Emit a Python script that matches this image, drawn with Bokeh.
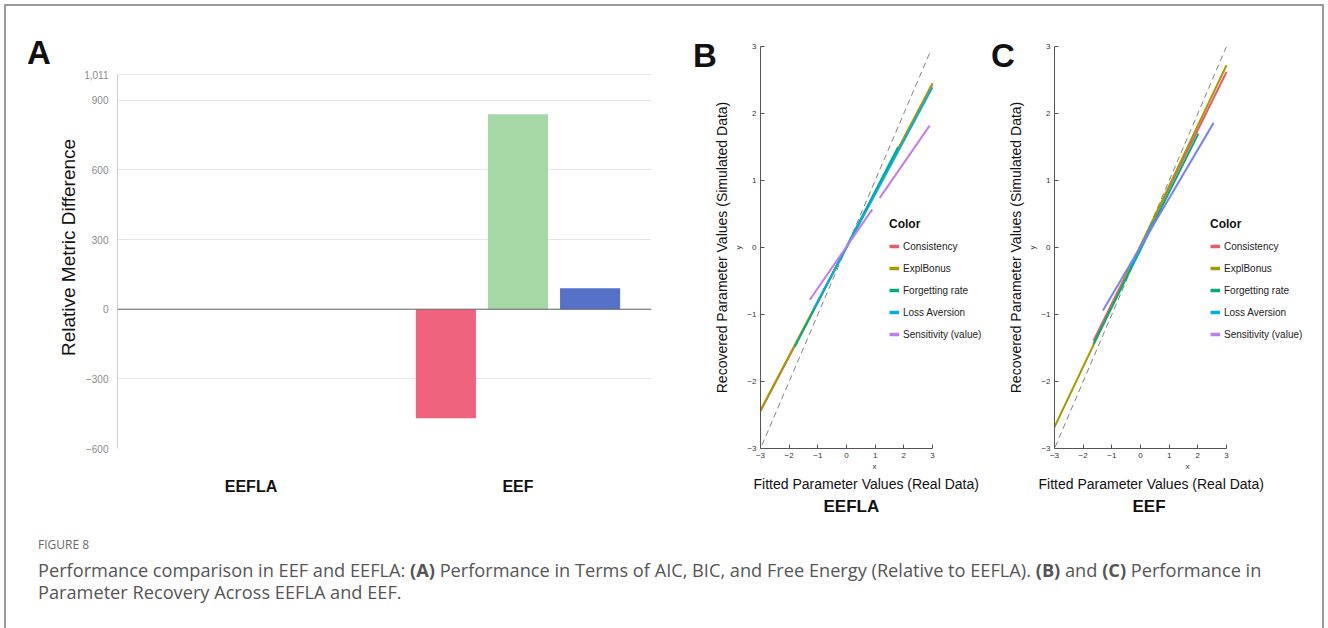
import math
from bokeh.plotting import figure
from bokeh.layouts import row, column
from bokeh.models import (ColumnDataSource, FactorRange, Range1d, FixedTicker, Span,
                          Legend, LegendItem, Title, Div)
from bokeh.transform import dodge
from bokeh.embed import file_html
from bokeh.resources import INLINE

nan = float("nan")

# ---------------- Panel A data ----------------
models = ["EEFLA", "EEF"]
aic_diff = [0, -470]
bic_diff = [0, 840]
fe_diff = [0, 90]
metric_colors = ["#f0637f", "#a6d8a6", "#5672c8"]
a_yticks = [-600, -300, 0, 300, 600, 900, 1011]
a_ytick_labels = ["\u2212600", "\u2212300", "0", "300", "600", "900", "1,011"]
a_ymin, a_ymax = -600, 1011

# ---------------- Panels B / C data ----------------
params = ["Consistency", "ExplBonus", "Forgetting rate", "Loss Aversion", "Sensitivity (value)"]
param_colors = ["#eb5a68", "#a59a00", "#00ad7d", "#00aee8", "#c27cf2"]
rec_ticks = [-3, -2, -1, 0, 1, 2, 3]

# EEFLA (panel B)
eefla_identity = [-2.95, 2.95]
eefla_cons_x = [-3.0, 3.0]
eefla_cons_y = [-2.44, 2.44]
eefla_expl_x = [-3.0, 3.0]
eefla_expl_y = [-2.43, 2.45]
eefla_forg_x = [-1.80, 1.80]
eefla_forg_y = [-1.48, 1.50]
eefla_loss_x = [-1.15, 3.0]
eefla_loss_y = [-0.92, 2.39]
eefla_sens_x = [-1.28, 0.90, nan, 1.16, 2.90]
eefla_sens_y = [-0.78, 0.57, nan, 0.74, 1.82]

# EEF (panel C)
eef_identity = [-2.98, 3.0]
eef_cons_x = [-1.64, 3.0]
eef_cons_y = [-1.39, 2.62]
eef_expl_x = [-3.0, 3.0]
eef_expl_y = [-2.68, 2.72]
eef_forg_x = [-1.64, 2.02]
eef_forg_y = [-1.44, 1.70]
eef_loss_x = [-0.35, 0.45]
eef_loss_y = [-0.30, 0.38]
eef_sens_x = [-1.31, 2.55]
eef_sens_y = [-0.94, 1.86]
eef_sens_line_color = "#7b82f0"

H = 520
MB_TOP = 40
MB_BOTTOM = 78
FRAME_H = H - MB_TOP - MB_BOTTOM          # 402 px, shared by all panels

# ================= Panel A =================
a_px_per_unit = (FRAME_H - 28) / (a_ymax - a_ymin)
a_range_top = a_ymax + 28 / a_px_per_unit

src = ColumnDataSource(dict(model=models, aic=aic_diff, bic=bic_diff, fe=fe_diff))
pA = figure(x_range=FactorRange(*models), y_range=Range1d(a_ymin, a_range_top),
            width=684, height=H, output_backend="svg", toolbar_location=None,
            min_border_left=111, min_border_right=39,
            min_border_top=MB_TOP, min_border_bottom=MB_BOTTOM)
pA.outline_line_color = None
pA.vbar(x=dodge("model", -0.27, range=pA.x_range), top="aic", width=0.225, source=src,
        fill_color=metric_colors[0], line_color=None)
pA.vbar(x=dodge("model", 0.0, range=pA.x_range), top="bic", width=0.225, source=src,
        fill_color=metric_colors[1], line_color=None)
pA.vbar(x=dodge("model", 0.27, range=pA.x_range), top="fe", width=0.225, source=src,
        fill_color=metric_colors[2], line_color=None)
pA.add_layout(Span(location=0, dimension="width", line_color="#666666", line_width=1))
pA.xgrid.grid_line_color = None
pA.ygrid.grid_line_color = "#e4e4ef"
pA.ygrid.ticker = FixedTicker(ticks=a_yticks)
pA.yaxis.ticker = FixedTicker(ticks=a_yticks)
pA.yaxis.bounds = (a_ymin, a_ymax)
pA.yaxis.major_label_overrides = {t: l for t, l in zip(a_yticks, a_ytick_labels)}
pA.yaxis.major_label_text_font = "Liberation Sans"
pA.yaxis.major_label_text_font_size = "10px"
pA.yaxis.major_label_text_color = "#8a8a8a"
pA.yaxis.major_label_standoff = 9
pA.yaxis.major_tick_in = 0
pA.yaxis.major_tick_out = 0
pA.yaxis.minor_tick_in = 0
pA.yaxis.minor_tick_out = 0
pA.yaxis.major_tick_line_color = None
pA.yaxis.minor_tick_line_color = None
pA.yaxis.axis_line_color = "#cfcfcf"
pA.yaxis.axis_label = "Relative Metric Difference"
pA.yaxis.axis_label_text_font = "Liberation Sans"
pA.yaxis.axis_label_text_font_size = "19px"
pA.yaxis.axis_label_text_font_style = "normal"
pA.yaxis.axis_label_text_color = "#111111"
pA.yaxis.axis_label_standoff = 2
pA.xaxis.axis_line_color = None
pA.xaxis.major_tick_line_color = None
pA.xaxis.major_tick_in = 0
pA.xaxis.major_tick_out = 0
pA.xaxis.major_label_text_font = "Liberation Sans"
pA.xaxis.major_label_text_font_style = "bold"
pA.xaxis.major_label_text_font_size = "16px"
pA.xaxis.major_label_text_color = "#111111"
pA.xaxis.major_label_standoff = 29


# ================= Panels B / C =================
REC_PX_PER_UNIT = 172 / 6.0


def recovery_panel(width, mb_left, identity, series, sens_color, legend_x, model_name,
                   fitted_offset, name_offset):
    frame_w = width - mb_left - 2
    x_end = -3 + frame_w / REC_PX_PER_UNIT
    p = figure(x_range=Range1d(-3, x_end), y_range=Range1d(-3, 3), width=width, height=H,
               output_backend="svg", toolbar_location=None,
               min_border_left=mb_left, min_border_right=2,
               min_border_top=MB_TOP, min_border_bottom=MB_BOTTOM)
    p.outline_line_color = None
    p.grid.grid_line_color = None
    p.line(identity, identity, line_color="#808080", line_width=1, line_dash="6 4")
    for i, (xs, ys) in enumerate(series):
        col = param_colors[i] if i < 4 else sens_color
        p.line(xs, ys, line_color=col, line_width=2)
    # legend-only renderers (nothing visible in the plot area)
    dummies = [p.line([nan, nan], [nan, nan], line_color=c, line_width=3.5)
               for c in param_colors]
    for ax in (p.xaxis, p.yaxis):
        ax.ticker = FixedTicker(ticks=rec_ticks)
        ax.bounds = (-3, 3)
        ax.axis_line_color = "#555555"
        ax.major_tick_line_color = "#555555"
        ax.major_tick_in = 4
        ax.major_tick_out = 0
        ax.minor_tick_line_color = None
        ax.major_label_text_font = "Liberation Sans"
        ax.major_label_text_font_size = "8px"
        ax.major_label_text_color = "#333333"
        ax.major_label_standoff = 4
        ax.axis_label_text_font = "Liberation Sans"
        ax.axis_label_text_font_size = "8px"
        ax.axis_label_text_font_style = "normal"
        ax.axis_label_text_color = "#333333"
        ax.axis_label_standoff = 1
    p.xaxis.axis_label = "x"
    p.yaxis.axis_label = "y"
    p.add_layout(Title(text="Fitted Parameter Values (Real Data)", align="left",
                       offset=fitted_offset,
                       text_font="Liberation Sans", text_font_size="14px",
                       text_font_style="normal", text_color="#111111", standoff=0), "below")
    p.add_layout(Title(text=model_name, align="left", offset=name_offset,
                       text_font="Liberation Sans",
                       text_font_size="17px", text_font_style="bold",
                       text_color="#111111", standoff=6), "below")
    p.add_layout(Title(text="Recovered Parameter Values (Simulated Data)", align="center",
                       text_font="Liberation Sans", text_font_size="14px",
                       text_font_style="normal", text_color="#111111", standoff=4), "left")
    legend = Legend(items=[LegendItem(label=n, renderers=[r]) for n, r in zip(params, dummies)],
                    location=(legend_x, 107), title="Color",
                    title_text_font="Liberation Sans", title_text_font_style="bold",
                    title_text_font_size="12px", title_text_color="#111111",
                    label_text_font="Liberation Sans", label_text_font_size="10px",
                    label_text_color="#222222",
                    glyph_width=10, glyph_height=14, label_height=14, spacing=8,
                    padding=0, margin=0, border_line_color=None, background_fill_alpha=0,
                    label_standoff=4, title_standoff=8)
    p.add_layout(legend)
    return p


pB = recovery_panel(300, 70, eefla_identity,
                    [(eefla_cons_x, eefla_cons_y), (eefla_expl_x, eefla_expl_y),
                     (eefla_forg_x, eefla_forg_y), (eefla_loss_x, eefla_loss_y),
                     (eefla_sens_x, eefla_sens_y)],
                    param_colors[4], 129, "EEFLA", -7, 63)
pC = recovery_panel(332, 64, eef_identity,
                    [(eef_cons_x, eef_cons_y), (eef_expl_x, eef_expl_y),
                     (eef_forg_x, eef_forg_y), (eef_loss_x, eef_loss_y),
                     (eef_sens_x, eef_sens_y)],
                    eef_sens_line_color, 156, "EEF", -16, 78)

letter_css = ("position:absolute;font-family:'Liberation Sans';font-weight:bold;"
              "font-size:33px;line-height:33px;color:#111;")
line_css = "font-size:18.2px;line-height:22px;color:#555555;white-space:nowrap;"
caption_html = (
    f'<div style="{letter_css}left:21px;top:-490px;">A</div>'
    f'<div style="{letter_css}left:687px;top:-487px;">B</div>'
    f'<div style="{letter_css}left:985px;top:-487px;">C</div>'
    '<div style="font-family:\'Open Sans\';margin-left:32px;width:1260px;">'
    '<div style="font-size:12px;line-height:16px;color:#6a6a6a;margin-top:11px;">FIGURE 8</div>'
    f'<div style="{line_css}margin-top:6px;">'
    '<span>Performance comparison in EEF and EEFLA: </span><b>(A)</b>'
    '<span> Performance in Terms of AIC, BIC, and Free Energy (Relative to EEFLA). </span>'
    '<b>(B)</b><span> and </span><b>(C)</b><span> Performance in</span></div>'
    f'<div style="{line_css}">Parameter Recovery Across EEFLA and EEF.</div>'
    '</div>'
)
caption = Div(text=caption_html, width=1316, height=110, margin=0,
              styles={"overflow": "visible", "position": "relative"})

layout = column(row(pA, pB, pC), caption,
                styles={"border": "2px solid #9a9a9a", "margin-left": "4px", "margin-top": "4px"})

open("out.html", "w").write(file_html(layout, INLINE))
